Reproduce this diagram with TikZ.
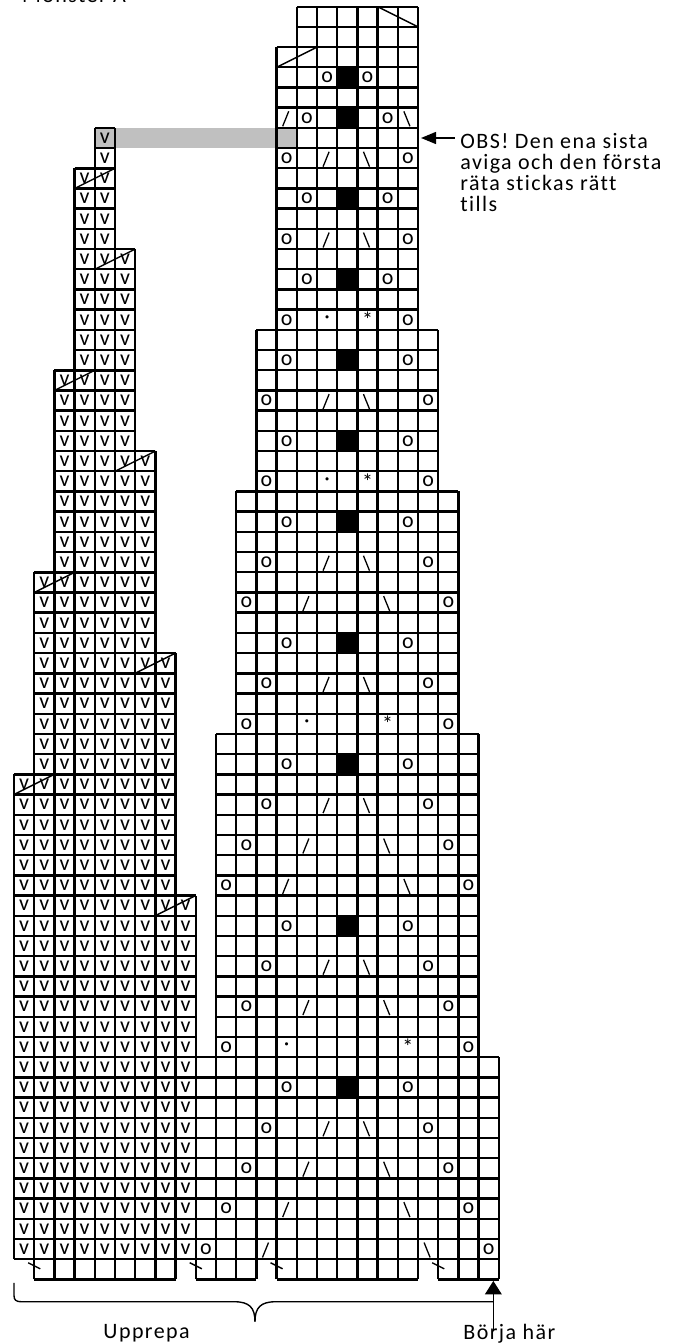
\documentclass[tikz,border=0pt]{standalone}
\usepackage{fontspec}
\setmainfont{Carlito}[Ligatures=NoCommon]
\newfontfamily\notefont{Carlito}[LetterSpace=6.5, Ligatures=NoCommon]
\usepackage{xcolor}
\usetikzlibrary{arrows.meta}
\definecolor{chartink}{HTML}{000000}
\definecolor{chartgrey}{HTML}{C0C0C0}

\begin{document}
\begin{tikzpicture}[x=10.1pt, y=10.1pt, >={Triangle[length=7.5pt,width=6pt]},
                    every node/.style={chartink, font=\fontsize{11}{10.5}\selectfont},
                    cellgrid/.style={chartink, line width=1.2pt, step=1},
                    stitch/.style={inner sep=0pt},
                    strike/.style={chartink, line width=0.7pt},
                    slant/.style={chartink, line width=0.65pt},
                    tickmark/.style={chartink, line width=0.7pt},
                    pointer/.style={chartink, line width=0.7pt},
                    note/.style={inner sep=0pt, align=left,
                                 font=\notefont\fontsize{11}{10.55}\selectfont}]

  \useasboundingbox (-0.693,-3.153) rectangle (33.168,63.332);

  %% 灰色標記行
  \fill[chartgrey] (4,56) rectangle (14,57);

  %% 左邊反針區
  \foreach \a/\b/\lo/\hi in {4/4/55/56, 3/4/51/54, 3/5/45/50, 2/5/41/44, 2/6/35/40,
                             1/6/31/34, 1/7/25/30, 0/7/19/24, 0/8/1/18} {
    \draw[cellgrid] (\a,\lo) grid (\b+1,\hi+1);
    \foreach \c in {\a,...,\b}
      \foreach \r in {\lo,...,\hi}
        \node[stitch] (v-\c-\r) at (\c+.5,\r+.5) {v};
  }

  %% 右邊花樣區
  \foreach \a/\b/\lo/\hi in {14/19/61/62, 13/19/47/60, 12/20/39/46, 11/21/27/38,
                             10/22/11/26, 9/23/1/10}
    \draw[cellgrid] (\a,\lo) grid (\b+1,\hi+1);

  %% 起針行
  \foreach \a/\b in {1/7, 9/11, 13/19, 21/23} {
    \draw[cellgrid] (\a,0) grid (\b+1,1);
    \draw[tickmark] (\a-.3,.82) -- (\a+.3,.52);
  }

  %% 斜線
  \foreach \c/\r in {3/54, 4/50, 2/44, 5/40, 1/34, 6/30, 0/24, 7/18}
    \draw[strike] (\c,\r) -- (\c+2,\r+1);
  \draw[strike] (13,60) -- (15,61);
  \draw[strike] (18,63) -- (20,62);

  %% 黑格
  \foreach \r in {59,57,53,49,45,41,37,31,25,17,9}
    \fill[chartink] (16,\r) rectangle (17,\r+1);

  %% 空針 o
  \foreach \r/\d in {59/1, 57/2, 55/3, 53/2, 51/3, 49/2, 47/3, 45/3, 43/4, 41/3,
                     39/4, 37/3, 35/4, 33/5, 31/3, 29/4, 27/5, 25/3, 23/4, 21/5,
                     19/6, 17/3, 15/4, 13/5, 11/6, 9/3, 7/4, 5/5, 3/6, 1/7} {
    \node[stitch] (ol\r) at (16.5-\d,\r+.5) {o};
    \node[stitch] (or\r) at (16.5+\d,\r+.5) {o};
  }

  %% 併針 / 與 \
  \foreach \r/\e in {57/3, 55/1, 51/1, 43/1, 35/1, 33/2, 29/1, 23/1, 21/2, 19/3,
                     15/1, 13/2, 7/1, 5/2, 3/3, 1/4} {
    \draw[slant] (16.3-\e,\r+.08) -- (16.6-\e,\r+.82);
    \draw[slant] (16.3+\e,\r+.82) -- (16.6+\e,\r+.08);
  }

  %% 點與星號
  \foreach \r/\e in {47/1, 39/1, 27/2, 11/3} {
    \node[stitch] (dt\r) at (16.5-\e,\r+.5) {·};
    \node[stitch] (st\r) at (16.5+\e,\r+.5) {*};
  }

  %% 標題
  \node[note, anchor=base west] (title) at (0.38,63.2) {Mönster A};

  %% 說明與箭頭
  \coordinate (obsrow) at (20.15,56.5);
  \node[note, anchor=base west] (obs) at (22.08,52.84)
    {OBS! Den ena sista\\aviga och den första\\räta stickas rätt\\tills};
  \draw[pointer, ->] (obs.west |- obsrow) ++(-0.25,0) -- (obsrow);

  %% 重複範圍
  \draw[pointer] (0,-.18) -- (0,-.8) .. controls (0,-1.02) and (.1,-1.11) .. (.35,-1.11)
    -- (10.9,-1.11) .. controls (11.65,-1.11) and (11.93,-1.4) .. (11.93,-2.1)
    .. controls (11.93,-1.4) and (12.21,-1.11) .. (12.96,-1.11) -- (23.73,-1.11);
  \node[note, anchor=base west] (upprepa) at (4.41,-2.93) {Upprepa};

  %% 起點
  \coordinate (bstart) at (23.73,-0.08);
  \node[note, anchor=base west] (borja) at (22.23,-2.96) {Börja här};
  \draw[pointer, -{Triangle[length=6.7pt,width=8.3pt]}]
    (borja.north -| bstart) ++(0,-0.36) -- (bstart);

\end{tikzpicture}
\end{document}
